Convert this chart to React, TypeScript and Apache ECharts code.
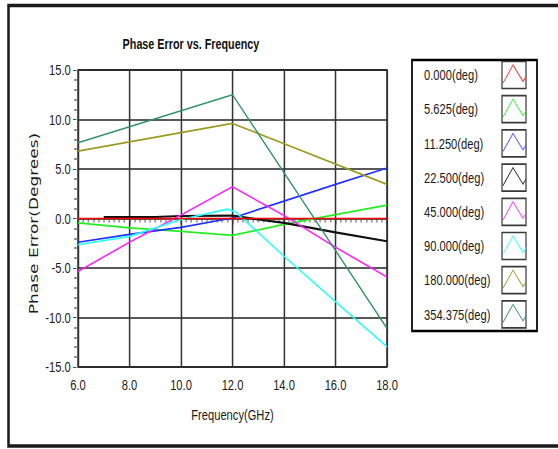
import React, { useEffect, useRef } from "react";
import * as echarts from "echarts";

// ---- data ----
const seriesNames = [
  "0.000(deg)",
  "5.625(deg)",
  "11.250(deg)",
  "22.500(deg)",
  "45.000(deg)",
  "90.000(deg)",
  "180.000(deg)",
  "354.375(deg)",
];
const lineColors = ["#ff0000", "#22ee22", "#1f2fff", "#111111", "#ff22ff", "#22ffff", "#9c9a1e", "#2e9463"];
const legendColors = ["#ff3b3b", "#44f044", "#4b5bff", "#333333", "#ff44ff", "#44ffff", "#a4a23c", "#3e9a6c"];

const phase0000: [number, number][] = [[6, 0], [18, 0]];
const phase5625: [number, number][] = [[6, -0.45], [8, -0.95], [10, -1.3], [12, -1.7], [14, -0.6], [16, 0.4], [18, 1.35]];
const phase11250: [number, number][] = [[6, -2.4], [8, -1.6], [10, -0.9], [12, 0.05], [14, 1.75], [16, 3.45], [18, 5.1]];
const phase22500: [number, number][] = [[7, 0.15], [9, 0.15], [10, 0.25], [12, 0.3], [13, -0.1], [14, -0.45], [16, -1.4], [18, -2.3]];
const phase45000: [number, number][] = [[6, -5.35], [8, -2.4], [10, 0.35], [12, 3.2], [14, 0.3], [16, -2.9], [18, -5.9]];
const phase90000: [number, number][] = [[6, -2.65], [8, -1.8], [10, -0.1], [11.8, 0.95], [12.1, 0.7], [14, -3.8], [16, -8.4], [18, -12.95]];
const phase180000: [number, number][] = [[6, 6.8], [12, 9.6], [18, 3.45]];
const phase354375: [number, number][] = [[6, 7.65], [12, 12.5], [18, -11.1]];

const allSeries = [phase0000, phase5625, phase11250, phase22500, phase45000, phase90000, phase180000, phase354375];

const xMin = 6;
const xMax = 18;
const xStep = 2;
const yMin = -15;
const yMax = 15;
const yStep = 5;

// The reference uses a tall, narrow UI font: the chart is laid out in a wider
// canvas and compressed horizontally so glyphs get the same proportions.
const W = 558;
const H = 449;
const SX = 0.72;
const IW = W / SX;
const X = (v: number) => v / SX;

const labelFont = "'Liberation Sans', Arial, sans-serif";
const FS = 15.5;

export default function App() {
  const ref = useRef<HTMLDivElement>(null);

  useEffect(() => {
    if (!ref.current) return;
    const chart = echarts.init(ref.current, undefined, { renderer: "svg" });

    const legendTop = 75;
    const legendRow = 34.2;
    const legendGraphics: any[] = [];
    seriesNames.forEach((name, i) => {
      const cy = legendTop + legendRow * i;
      legendGraphics.push({
        type: "text",
        x: X(424),
        y: cy,
        style: {
          text: name,
          font: `${FS}px ${labelFont}`,
          fill: "#1a1a1a",
          textVerticalAlign: "middle",
          textAlign: "left",
        },
      });
      legendGraphics.push({
        type: "rect",
        shape: { x: X(502), y: cy - 13.5, width: X(24), height: 27 },
        style: { fill: "#ffffff", stroke: "#3a3a3a", lineWidth: 1.7 },
      });
      legendGraphics.push({
        type: "polyline",
        shape: {
          points: [
            [X(503), cy + 8],
            [X(513), cy - 10],
            [X(523), cy + 6.5],
            [X(526), cy + 1.5],
          ],
        },
        style: { fill: "none", stroke: legendColors[i], lineWidth: 1.2 },
      });
    });

    const option: any = {
      animation: false,
      backgroundColor: "#ffffff",
      title: {
        text: "Phase Error vs. Frequency",
        left: X(119),
        top: 31,
        textStyle: {
          fontFamily: labelFont,
          fontWeight: "bold",
          fontSize: 15,
          color: "#111111",
        },
      },
      grid: {
        left: X(78),
        top: 70,
        right: IW - X(387),
        bottom: H - 367,
        show: true,
        borderColor: "#111111",
        borderWidth: 1.7,
        backgroundColor: "transparent",
      },
      xAxis: {
        type: "value",
        min: xMin,
        max: xMax,
        interval: xStep,
        offset: 2,
        axisLine: { show: false },
        axisTick: { show: true, length: 6, lineStyle: { color: "#333333", width: 1.4 } },
        minorTick: { show: true, splitNumber: 10, length: 4, lineStyle: { color: "#555555", width: 1.4 } },
        minorSplitLine: { show: false },
        splitLine: { show: true, lineStyle: { color: "#333333", width: 2.1 } },
        axisLabel: {
          formatter: (v: number) => v.toFixed(1),
          margin: 8,
          fontFamily: labelFont,
          fontSize: FS,
          color: "#1a1a1a",
        },
        name: "Frequency(GHz)",
        nameLocation: "middle",
        nameGap: 38,
        nameMoveOverlap: false,
        nameTextStyle: { fontFamily: labelFont, fontSize: FS, color: "#1a1a1a" },
      },
      yAxis: {
        type: "value",
        min: yMin,
        max: yMax,
        interval: yStep,
        offset: 2,
        axisLine: { show: false },
        axisTick: { show: true, length: 5, lineStyle: { color: "#333333", width: 1 } },
        minorTick: { show: true, splitNumber: 5, length: 3, lineStyle: { color: "#444444", width: 1.5 } },
        minorSplitLine: { show: false },
        splitLine: { show: true, lineStyle: { color: "#222222", width: 1.5 } },
        axisLabel: {
          formatter: (v: number) => v.toFixed(1),
          margin: 8,
          fontFamily: labelFont,
          fontSize: FS,
          color: "#1a1a1a",
        },
        name: "Phase Error(Degrees)",
        nameLocation: "middle",
        nameGap: 51,
        nameMoveOverlap: false,
        nameTextStyle: {
          fontFamily: "'DejaVu Sans', Verdana, sans-serif",
          fontSize: 17,
          color: "#1a1a1a",
          padding: [0, 10, 0, 0],
        },
      },
      series: allSeries.map((data, i) => ({
        name: seriesNames[i],
        type: "line",
        data,
        showSymbol: false,
        symbol: "none",
        z: i === 0 ? 4 : 3,
        lineStyle: { color: lineColors[i], width: i === 3 ? 2.2 : 1.7 },
        itemStyle: { color: lineColors[i] },
      })),
      graphic: [
        {
          type: "rect",
          shape: { x: X(8.5), y: 5.5, width: IW, height: 440.5 },
          style: { fill: "none", stroke: "#1a1a1a", lineWidth: 3.5 },
        },
        {
          type: "rect",
          shape: { x: X(412), y: 60, width: X(125), height: 271 },
          style: { fill: "#ffffff", stroke: "#000000", lineWidth: 2.4 },
        },
        ...legendGraphics,
      ],
    };

    chart.setOption(option);
    return () => {
      chart.dispose();
    };
  }, []);

  return (
    <div
      style={{
        position: "absolute",
        left: 0,
        top: 0,
        width: W,
        height: H,
        overflow: "hidden",
        background: "#ffffff",
      }}
    >
      <div
        ref={ref}
        style={{
          width: IW,
          height: H,
          transform: `scaleX(${SX})`,
          transformOrigin: "0 0",
        }}
      />
    </div>
  );
}
